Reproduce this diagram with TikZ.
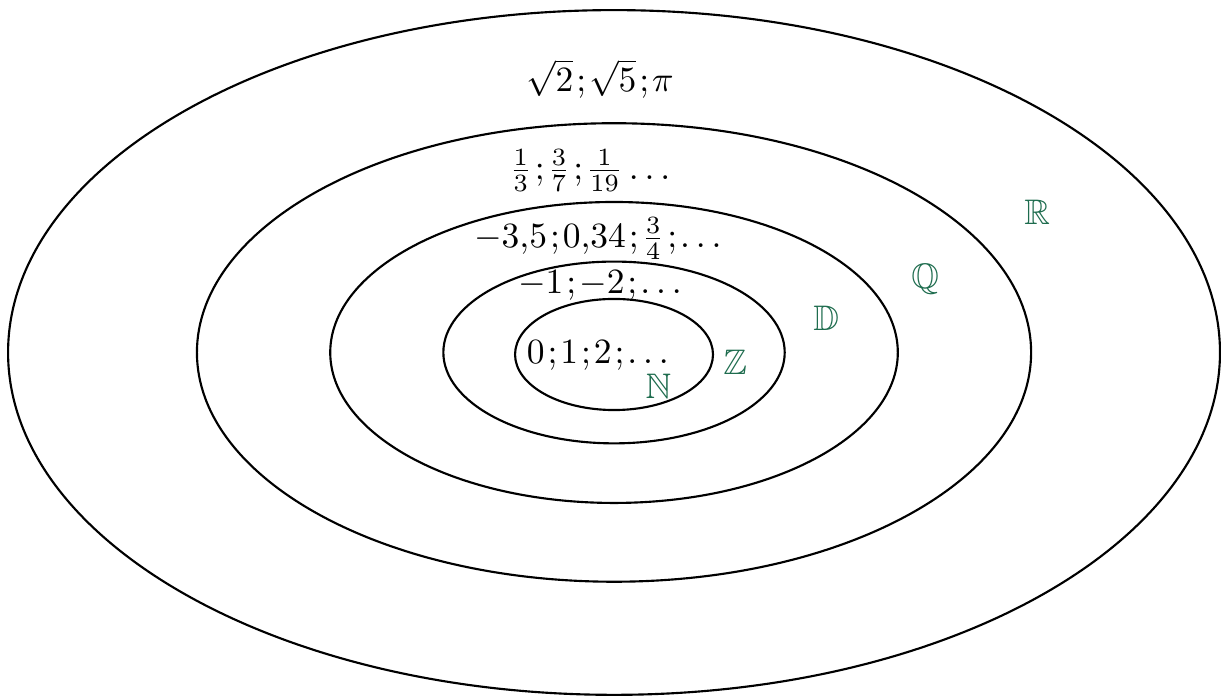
\documentclass[tikz,border=0pt]{standalone}
\usepackage{amssymb}
\usepackage{tikz}
\usetikzlibrary{positioning}
\definecolor{setgreen}{RGB}{30,108,78}
\newcommand{\pv}{\mathpunct{\mskip1.5mu;}\mskip-1.5mu}

\begin{document}
\begin{tikzpicture}[set/.style={semithick}, setname/.style={text=setgreen}]
  \useasboundingbox (-6.08,-3.40) rectangle (6.01,3.49);
  \draw[set] (0,0) ellipse (6 and 3.39);
  \draw[set] (0,0) ellipse (4.13 and 2.27);
  \draw[set] (0,0) ellipse (2.81 and 1.49);
  \draw[set] (0,0) ellipse (1.69 and 0.9);
  \draw[set] (0,-0.02) ellipse (0.98 and 0.55);
  \node (reels) at (-0.14,2.71) {$\sqrt{2}\pv\sqrt{5}\pv\pi$};
  \node (ratio) at (-0.24,1.80) {$\frac13\pv\frac37\pv\frac1{19}\ldots$};
  \node (deci) at (-0.16,1.13) {$-3{,}5\pv 0{,}34\pv\frac34\pv\ldots$};
  \node (rel) at (-0.14,0.66) {$-1\pv -2\pv\ldots$};
  \node (nat) at (-0.16,-0.03) {$0\pv 1\pv 2\pv\ldots$};
  \node[setname] (N) at (0.44,-0.33) {$\mathbb{N}$};
  \node[setname] (Z) at (1.2,-0.10) {$\mathbb{Z}$};
  \node[setname] (D) at (2.1,0.34) {$\mathbb{D}$};
  \node[setname] (Q) at (3.08,0.73) {$\mathbb{Q}$};
  \node[setname] (R) at (4.19,1.39) {$\mathbb{R}$};
\end{tikzpicture}
\end{document}
